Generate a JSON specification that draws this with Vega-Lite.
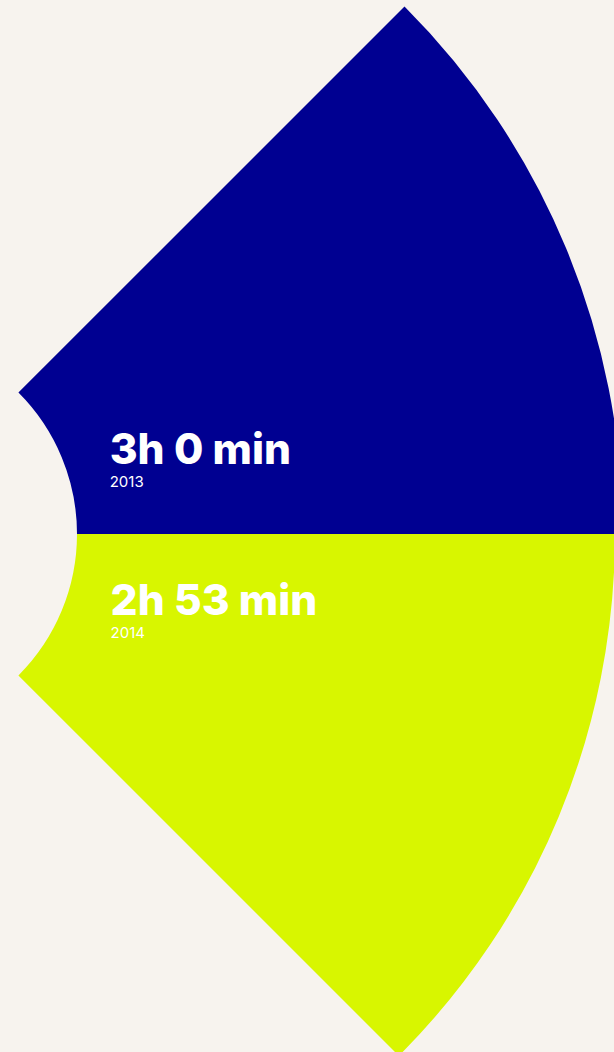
{
  "$schema": "https://vega.github.io/schema/vega-lite/v6.json",
  "width": 614,
  "height": 1052,
  "autosize": {"type": "none"},
  "padding": 0,
  "background": "#f7f3ee",
  "config": {"view": {"stroke": null}},
  "data": {
    "values": [
      {"year": "2013", "label": "3h 0 min", "minutes": 180, "n": 1},
      {"year": "2014", "label": "2h 53 min", "minutes": 173, "n": 1}
    ]
  },
  "transform": [
    {"stack": "n", "groupby": [], "sort": [{"field": "year", "order": "ascending"}], "as": ["t0", "t1"]}
  ],
  "resolve": {"scale": {"theta": "independent", "radius": "independent"}},
  "layer": [
    {
      "mark": {"type": "arc", "x": -123, "y": 534, "radius2": 200},
      "encoding": {
        "theta": {"field": "t0", "type": "quantitative", "scale": {"domain": [0, 2], "range": [0.7854, 2.3562]}},
        "theta2": {"field": "t1"},
        "radius": {"field": "minutes", "type": "quantitative", "scale": {"type": "linear", "zero": false, "domain": [0, 180], "range": [540, 746]}},
        "color": {"field": "year", "type": "nominal", "scale": {"domain": ["2013", "2014"], "range": ["#000091", "#d8f600"]}, "legend": null}
      }
    },
    {
      "mark": {"type": "text", "x": -123, "y": 534, "align": "left", "baseline": "alphabetic", "font": "Inter", "fontWeight": 800, "fontSize": 42.5, "fill": "#ffffff"},
      "encoding": {
        "theta": {"field": "t0", "type": "quantitative", "stack": false, "scale": {"domain": [0, 1], "range": [1.2786, 1.9047]}},
        "radius": {"field": "minutes", "type": "quantitative", "stack": false, "scale": {"type": "linear", "zero": false, "domain": [173, 180], "range": [247.2, 243.0]}},
        "text": {"field": "label", "type": "nominal"}
      }
    },
    {
      "mark": {"type": "text", "x": -123, "y": 534, "dy": 22.5, "align": "left", "baseline": "alphabetic", "font": "Inter", "fontWeight": 400, "fontSize": 15, "fill": "#ffffff"},
      "encoding": {
        "theta": {"field": "t0", "type": "quantitative", "stack": false, "scale": {"domain": [0, 1], "range": [1.2786, 1.9047]}},
        "radius": {"field": "minutes", "type": "quantitative", "stack": false, "scale": {"type": "linear", "zero": false, "domain": [173, 180], "range": [247.2, 243.0]}},
        "text": {"field": "year", "type": "nominal"}
      }
    }
  ]
}
